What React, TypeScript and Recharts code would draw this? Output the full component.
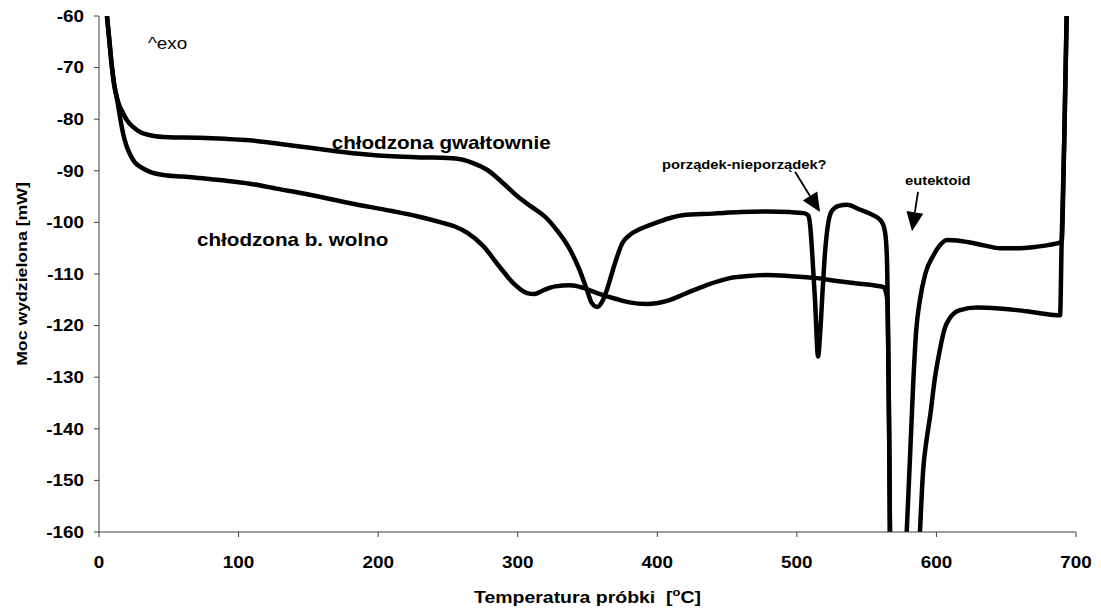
import React from 'react';
import {
  LineChart, Line, XAxis, YAxis, ReferenceDot, ReferenceLine
} from 'recharts';

// temperatura [°C] / moc [mW] – próbka chłodzona gwałtownie
const quenchedT = [
  5.7, 7.5, 9.3, 11, 13, 15, 17.2, 20, 24.4, 30, 36.5, 50, 72, 90, 108, 130, 150, 170, 190, 210,
  230, 250, 260, 268, 278, 290, 300, 310, 320, 328, 337.5, 344, 349.6, 353, 356.8, 360, 364, 369, 375, 380,
  387.6, 400, 411, 418, 440, 460, 478.6, 495, 505, 508, 509.5, 511, 513, 515.2, 516.8, 518.5, 520, 522, 525, 530,
  536, 545, 554.6, 560, 562.5, 564, 564.8, 565.5, 566.1, 566.7, 572, 578.7, 581, 583.4, 585.5, 588.2, 592, 597.6, 602, 607.6,
  615, 622, 635, 645.6, 660, 669, 680, 689.7, 691.5, 693.3,
];
const quenchedP: (number | null)[] = [
  -60, -65, -70, -73.5, -76, -77.6, -78.8, -80.2, -81.5, -82.6, -83.1, -83.5, -83.6, -83.8, -84.1, -84.8, -85.5, -86.2, -86.8, -87.2,
  -87.4, -87.5, -87.8, -88.5, -89.8, -92.5, -95, -97, -99, -101.5, -105.3, -109, -113.1, -115.6, -116.4, -115.6, -113, -108.5, -104, -102.5,
  -101.3, -100, -99, -98.6, -98.3, -98, -97.9, -98, -98.2, -98.6, -100.5, -106, -115, -126, -121, -113, -106.5, -101, -97.8, -96.8,
  -96.6, -97.5, -98.6, -99.6, -101, -104, -110, -125, -140, -160, null, -160, -146, -131, -121, -115, -110, -106.5, -104.6, -103.4,
  -103.5, -103.8, -104.5, -105, -105, -104.8, -104.4, -103.8, -85, -60,
];

// próbka chłodzona bardzo wolno
const slowT = [
  5.7, 7.5, 9.3, 11, 13, 15, 17.2, 19.5, 22.2, 25.5, 29.4, 36.5, 48.7, 60, 72, 90, 108, 130, 150, 180,
  210, 228, 245, 255, 263.7, 275, 287, 297, 306.7, 312, 318, 327, 337.5, 347, 356.8, 370, 380, 392.6, 407, 421,
  435, 452, 465, 478.6, 495, 514.4, 530, 545, 555, 561.7, 563.5, 564.8, 565.5, 566.1, 566.7, 577, 588.2, 590.5, 593, 595.4,
  599, 602.6, 606, 609.7, 616.9, 629, 645, 657.7, 672, 688.6, 689.7, 691.5, 693.3,
];
const slowP: (number | null)[] = [
  -60, -65, -70, -73.5, -76.2, -79.5, -82.7, -85, -86.8, -88.3, -89.2, -90.2, -90.9, -91.1, -91.4, -91.9, -92.5, -93.6, -94.6, -96.3,
  -97.8, -98.8, -100, -100.8, -102, -104.5, -108.6, -111.8, -113.7, -113.9, -113.2, -112.4, -112.2, -112.7, -113.7, -114.8, -115.5, -115.8, -115.2, -113.7,
  -112.2, -110.8, -110.4, -110.2, -110.4, -110.8, -111.4, -111.9, -112.2, -112.5, -113.2, -115, -125, -140, -160, null, -160, -148, -142, -137.7,
  -130, -124.5, -120.5, -118.5, -117, -116.5, -116.7, -117, -117.5, -118, -104, -85, -60,
];

const xTicks = [0, 100, 200, 300, 400, 500, 600, 700];
const yTicks = [-160, -150, -140, -130, -120, -110, -100, -90, -80, -70, -60];

const quenchedData = quenchedT.map((t, i) => ({ t, p: quenchedP[i] }));
const slowData = slowT.map((t, i) => ({ t, p: slowP[i] }));

const FONT = '"Liberation Sans", Arial, sans-serif';
const SX = 1.18; // tekst w oryginale jest lekko rozciągnięty w poziomie

const StretchText = ({ x, y, anchor = 'start', size = 16, bold = true, rotate = 0, children }: any) => (
  <text
    transform={`translate(${x},${y}) rotate(${rotate}) scale(${SX},1)`}
    textAnchor={anchor}
    fontFamily={FONT}
    fontSize={size}
    fontWeight={bold ? 700 : 400}
    fill="#000"
  >
    {children}
  </text>
);

const Arrow = ({ x1, y1, x2, y2 }: any) => {
  const dx = x2 - x1;
  const dy = y2 - y1;
  const len = Math.sqrt(dx * dx + dy * dy);
  const ux = dx / len;
  const uy = dy / len;
  const L = 19;
  const W = 8.5;
  const bx = x2 - ux * L;
  const by = y2 - uy * L;
  return (
    <g>
      <line x1={x1} y1={y1} x2={bx} y2={by} stroke="#000" strokeWidth={1.8} />
      <polygon
        points={`${x2},${y2} ${bx - uy * W},${by + ux * W} ${bx + uy * W},${by - ux * W}`}
        fill="#000"
      />
    </g>
  );
};

const note = (text: string, size: number, bold = true) => (props: any) => (
  <StretchText x={props.cx} y={props.cy} size={size} bold={bold}>{text}</StretchText>
);

const YTick = ({ x, y, payload }: any) => (
  <StretchText x={x} y={y + 5.7} anchor="end" size={16}>{payload.value}</StretchText>
);

const XTick = ({ x, y, payload }: any) => (
  <StretchText x={x} y={y + 17} anchor="middle" size={16}>{payload.value}</StretchText>
);

const XTitle = ({ viewBox }: any) => (
  <StretchText x={viewBox.x + viewBox.width / 2} y={viewBox.y + 71} anchor="middle" size={16.5}>
    Temperatura próbki{'\u00a0\u00a0'}[<tspan dy={-7} fontSize={11}>o</tspan><tspan dy={7}>C]</tspan>
  </StretchText>
);

const YTitle = ({ viewBox }: any) => (
  <StretchText x={26.5} y={viewBox.y + viewBox.height / 2} anchor="middle" size={15} rotate={-90}>
    Moc wydzielona [mW]
  </StretchText>
);

export default function App() {
  return (
    <div style={{ position: 'absolute', left: 0, top: 0, background: '#fff' }}>
      <LineChart width={1101} height={614} margin={{ top: 16, right: 25, left: 0, bottom: 0 }}>
        <XAxis
          dataKey="t"
          type="number"
          domain={[0, 700]}
          ticks={xTicks}
          allowDataOverflow
          stroke="#404040"
          tickSize={5}
          tickMargin={14}
          height={82}
          tick={<XTick />}
          label={<XTitle />}
        />
        <YAxis
          type="number"
          domain={[-160, -60]}
          ticks={yTicks}
          allowDataOverflow
          stroke="#404040"
          tickSize={5}
          tickMargin={10}
          width={99}
          tick={<YTick />}
          label={<YTitle />}
        />
        <Line data={quenchedData} dataKey="p" type="monotone" stroke="#000" strokeWidth={4.5}
          dot={false} activeDot={false} isAnimationActive={false} connectNulls={false} />
        <Line data={slowData} dataKey="p" type="monotone" stroke="#000" strokeWidth={4.5}
          dot={false} activeDot={false} isAnimationActive={false} connectNulls={false} />

        <ReferenceLine segment={[{ x: 498.7, y: -90.2 }, { x: 516.6, y: -98 }]} shape={Arrow} />
        <ReferenceLine segment={[{ x: 586.8, y: -94.1 }, { x: 582.5, y: -101.7 }]} shape={Arrow} />

        <ReferenceDot x={35.1} y={-66.4} r={0} shape={note('^exo', 16, false)} />
        <ReferenceDot x={166.7} y={-85.8} r={0} shape={note('chłodzona gwałtownie', 17.5)} />
        <ReferenceDot x={70.2} y={-104.6} r={0} shape={note('chłodzona b. wolno', 17.5)} />
        <ReferenceDot x={403.4} y={-89.7} r={0} shape={note('porządek-nieporządek?', 12.5)} />
        <ReferenceDot x={577.5} y={-92.75} r={0} shape={note('eutektoid', 12.5)} />
      </LineChart>
    </div>
  );
}
